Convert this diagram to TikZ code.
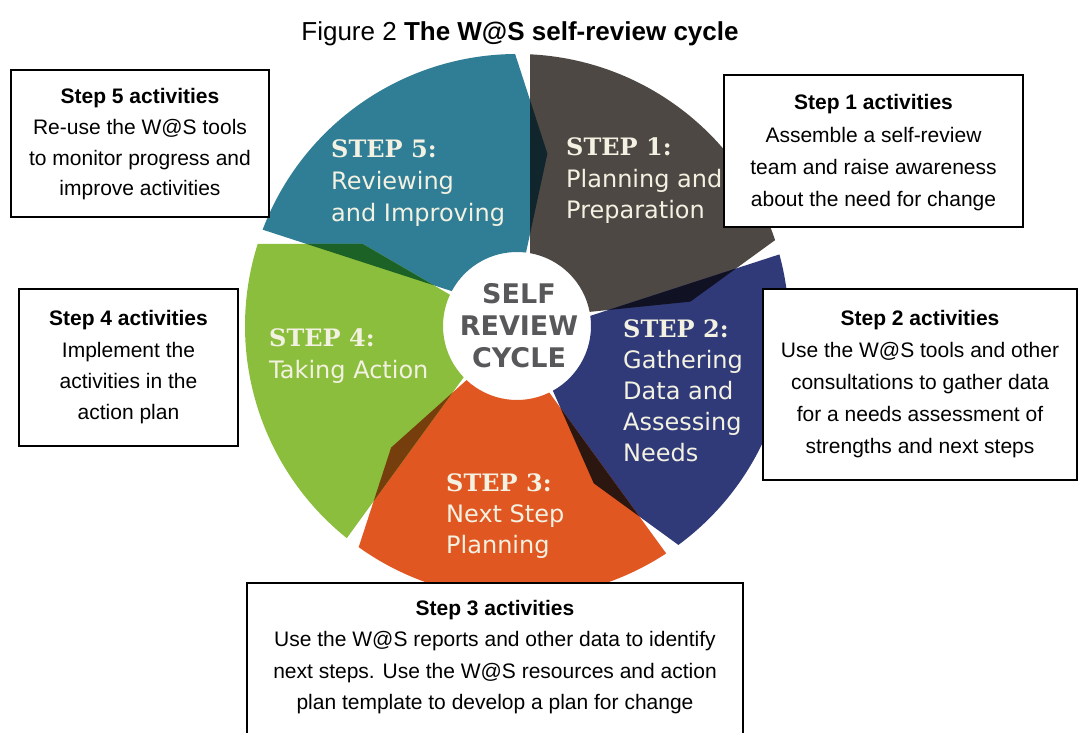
\documentclass[tikz,border=0pt]{standalone}
\usepackage{fontspec}
\setmainfont{Liberation Sans}
\newfontfamily\segfont{DejaVu Sans}
\newfontfamily\stepfont{DejaVu Serif}

% segment colours
\definecolor{segteal}{RGB}{47,126,150}
\definecolor{segbrown}{RGB}{78,72,68}
\definecolor{segnavy}{RGB}{48,58,120}
\definecolor{segorange}{RGB}{225,87,33}
\definecolor{seggreen}{RGB}{139,190,60}
% where an arrow tip lies over the next segment
\definecolor{ovtealbrown}{RGB}{16,38,44}
\definecolor{ovbrownnavy}{RGB}{16,17,34}
\definecolor{ovnavyorange}{RGB}{44,22,16}
\definecolor{ovorangegreen}{RGB}{118,62,12}
\definecolor{ovgreenteal}{RGB}{28,98,38}
\definecolor{segtext}{RGB}{243,241,226}
\definecolor{hubtext}{RGB}{88,88,90}

% one curved arrow segment of the wheel; #1 = angle where it starts
\newcommand\segpath[1]{({#1-2.74}:272) arc[start angle={#1-2.74}, end angle={#1-71.6}, radius=272] -- ({#1-82}:175) -- ({#1-79}:74) arc[start angle={#1-79}, end angle={#1-10.12}, radius=74] -- cycle}

\begin{document}
\begin{tikzpicture}[x=1pt,y=1pt,
  notebox/.style={draw=black, line width=1.4, fill=white, inner sep=0},
  boxline/.style={font=\fontsize{21}{25}\selectfont, anchor=base, inner sep=0},
  boxhead/.style={boxline, font=\bfseries\fontsize{21}{25}\selectfont},
  segline/.style={text=segtext, font=\segfont\fontsize{24}{30}\selectfont, anchor=base west, inner sep=0},
  seghead/.style={segline, font=\stepfont\bfseries\fontsize{24}{30}\selectfont},
  hubline/.style={text=hubtext, font=\segfont\bfseries\fontsize{27}{32}\selectfont, anchor=base, inner sep=0}]
\useasboundingbox (0,0) rectangle (1079,733);

% wheel
\begin{scope}[shift={(517,407)}]
  \fill[segteal] \segpath{162};
  \fill[segbrown] \segpath{90};
  \fill[segnavy] \segpath{18};
  \fill[segorange] \segpath{-54};
  \fill[seggreen] \segpath{-126};
  \begin{scope}\clip \segpath{90}; \fill[ovtealbrown] \segpath{162}; \end{scope}
  \begin{scope}\clip \segpath{18}; \fill[ovbrownnavy] \segpath{90}; \end{scope}
  \begin{scope}\clip \segpath{-54}; \fill[ovnavyorange] \segpath{18}; \end{scope}
  \begin{scope}\clip \segpath{-126}; \fill[ovorangegreen] \segpath{-54}; \end{scope}
  \begin{scope}\clip \segpath{162}; \fill[ovgreenteal] \segpath{-126}; \end{scope}
\end{scope}

% labels on the segments
\node[seghead] (s5a) at (331,575) {STEP 5:};
\node[segline] (s5b) at (331,543) {Reviewing};
\node[segline] (s5c) at (331,511) {and Improving};

\node[seghead] (s1a) at (566,577) {STEP 1:};
\node[segline] (s1b) at (566,545) {Planning and};
\node[segline] (s1c) at (566,514) {Preparation};

\node[seghead] (s2a) at (623,395) {STEP 2:};
\node[segline] (s2b) at (623,364) {Gathering};
\node[segline] (s2c) at (623,333) {Data and};
\node[segline] (s2d) at (623,302) {Assessing};
\node[segline] (s2e) at (623,271) {Needs};

\node[seghead] (s3a) at (446,241) {STEP 3:};
\node[segline] (s3b) at (446,210) {Next Step};
\node[segline] (s3c) at (446,179) {Planning};

\node[seghead] (s4a) at (269,386) {STEP 4:};
\node[segline] (s4b) at (269,354) {Taking Action};

\node[hubline] (hub1) at (519,429) {SELF};
\node[hubline] (hub2) at (519,397) {REVIEW};
\node[hubline] (hub3) at (519,365) {CYCLE};

% title
\node[anchor=base, inner sep=0, font=\fontsize{26}{30}\selectfont] (title) at (520,692)
  {Figure 2 \textbf{The W@S self-review cycle}};

% activity boxes
\node[notebox, minimum width=258, minimum height=147] (box5) at (140,589.5) {};
\node[boxhead] (b5a) at (140,629) {Step 5 activities};
\node[boxline] (b5b) at (140,598) {Re-use the W@S tools};
\node[boxline] (b5c) at (140,567) {to monitor progress and};
\node[boxline] (b5d) at (140,537) {improve activities};

\node[notebox, minimum width=299, minimum height=152] (box1) at (873.5,582) {};
\node[boxhead] (b1a) at (873.5,623) {Step 1 activities};
\node[boxline] (b1b) at (873.5,590) {Assemble a self-review};
\node[boxline] (b1c) at (873.5,558) {team and raise awareness};
\node[boxline] (b1d) at (873.5,526) {about the need for change};

\node[notebox, minimum width=219, minimum height=157] (box4) at (128.5,365.5) {};
\node[boxhead] (b4a) at (128.5,407) {Step 4 activities};
\node[boxline] (b4b) at (128.5,375) {Implement the};
\node[boxline] (b4c) at (128.5,344) {activities in the};
\node[boxline] (b4d) at (128.5,313) {action plan};

\node[notebox, minimum width=314, minimum height=191] (box2) at (920,348.5) {};
\node[boxhead] (b2a) at (920,407) {Step 2 activities};
\node[boxline] (b2b) at (920,375) {Use the W@S tools and other};
\node[boxline] (b2c) at (920,343) {consultations to gather data};
\node[boxline] (b2d) at (920,311) {for a needs assessment of};
\node[boxline] (b2e) at (920,279) {strengths and next steps};

\node[notebox, minimum width=496, minimum height=162] (box3) at (495,69) {};
\node[boxhead] (b3a) at (495,117) {Step 3 activities};
\node[boxline] (b3b) at (495,86) {Use the W@S reports and other data to identify};
\node[boxline] (b3c) at (495,54) {next steps. Use the W@S resources and action};
\node[boxline] (b3d) at (495,23) {plan template to develop a plan for change};
\end{tikzpicture}
\end{document}
